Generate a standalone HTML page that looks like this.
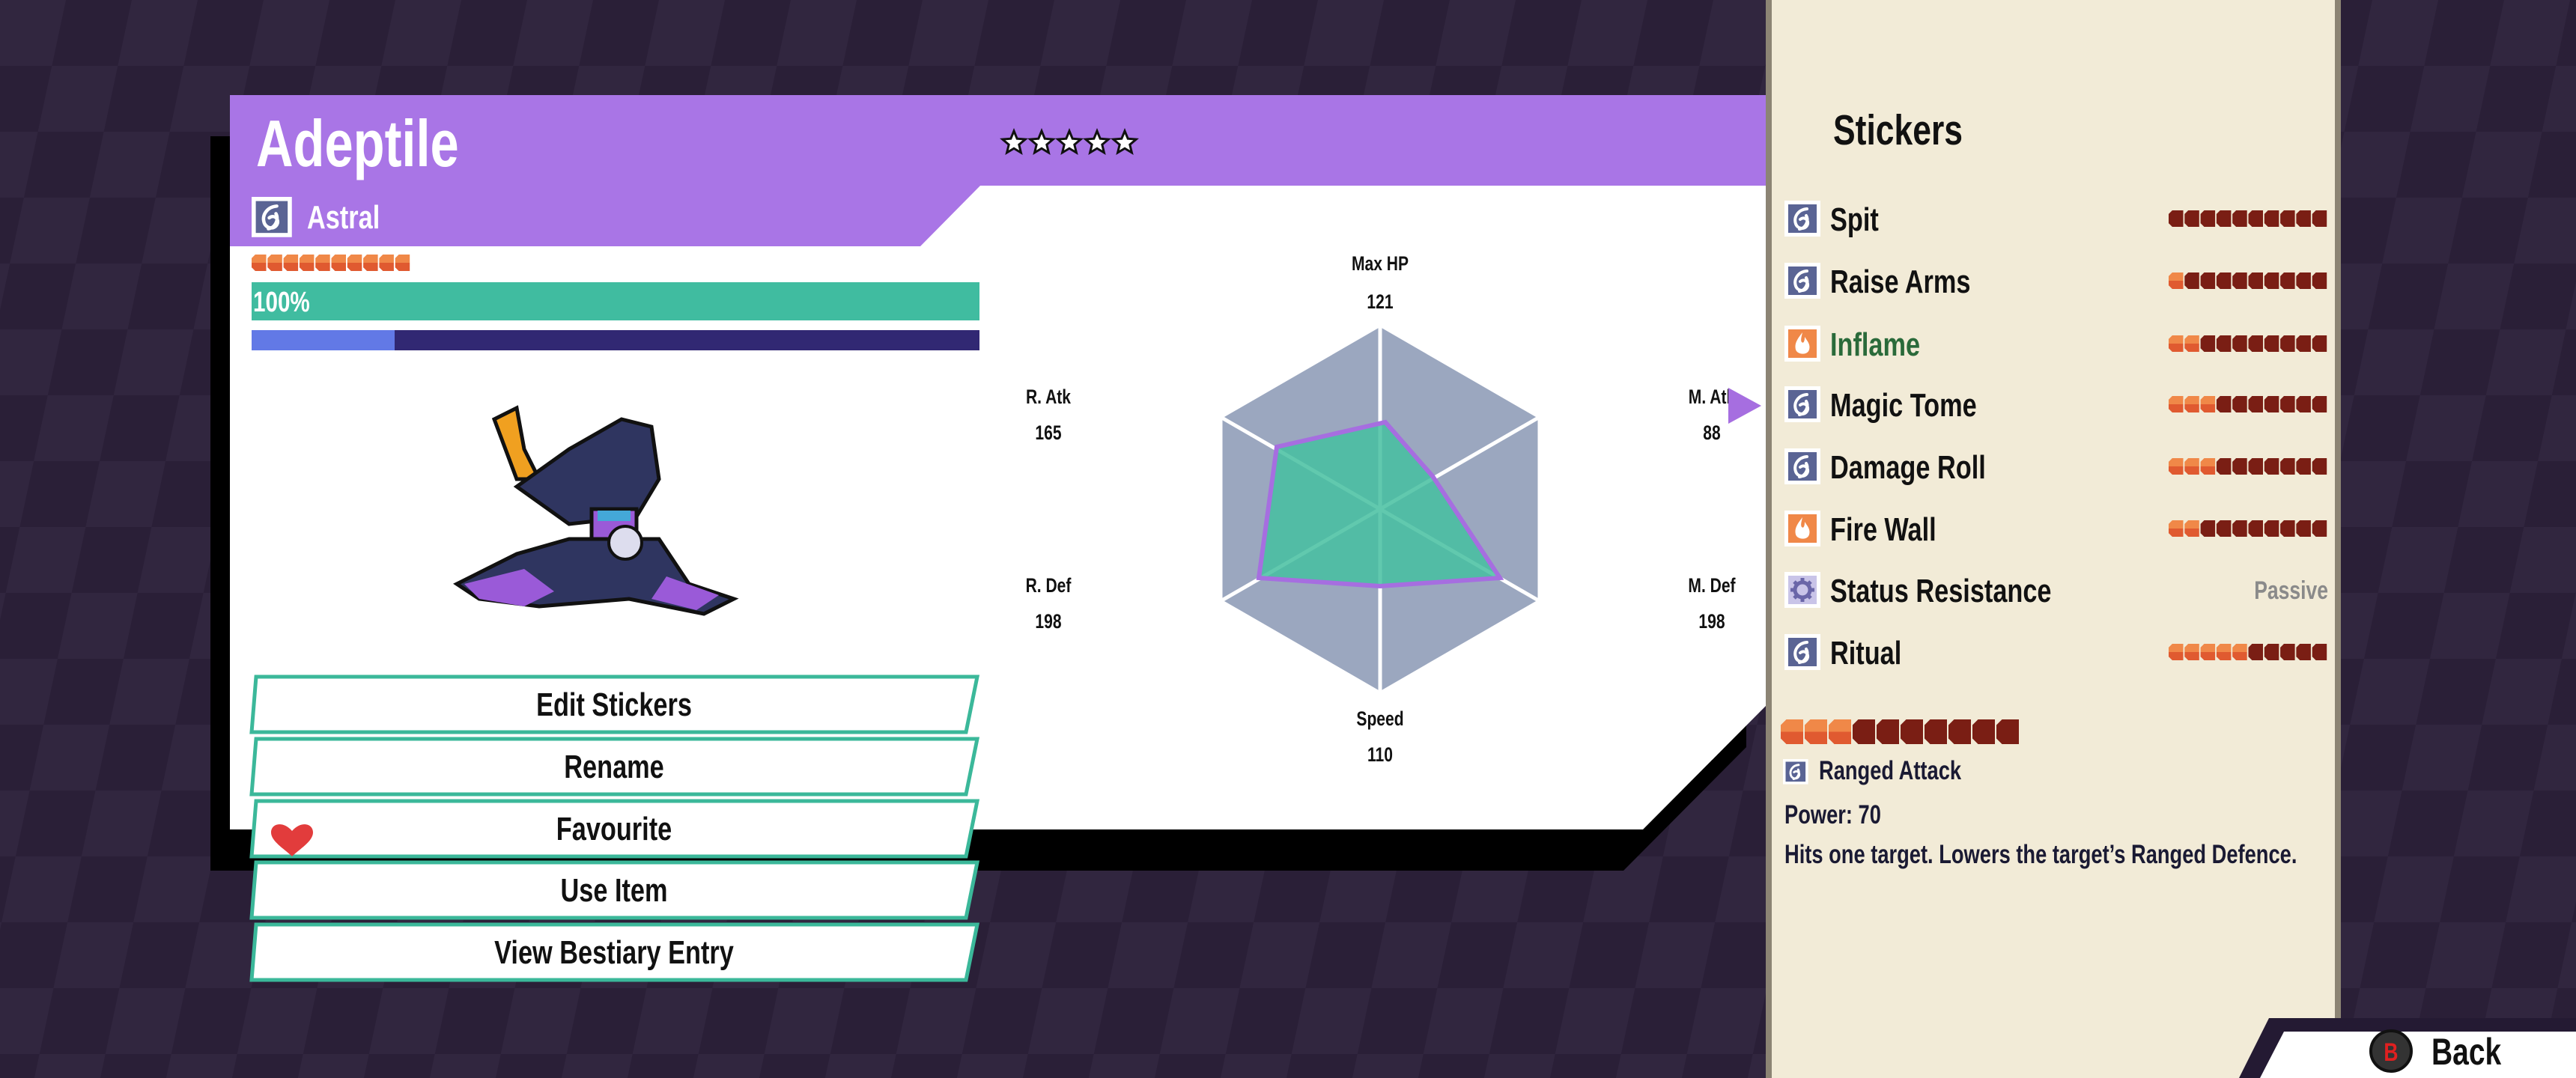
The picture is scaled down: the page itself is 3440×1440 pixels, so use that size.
<!DOCTYPE html>
<html><head><meta charset="utf-8">
<style>
html,body{margin:0;padding:0;width:3440px;height:1440px;overflow:hidden;background:#2c2139;}
svg{display:block}
text{font-family:"Liberation Sans Narrow","Liberation Sans",sans-serif;font-weight:bold;}
</style></head>
<body>
<svg id="s" width="3440" height="1440" viewBox="0 0 3440 1440" xmlns="http://www.w3.org/2000/svg">
<defs>
<pattern id="chk" width="176" height="176" patternUnits="userSpaceOnUse" patternTransform="skewX(-12)">
<rect width="176" height="176" fill="#2a1f37"/>
<rect width="88" height="88" fill="#31263f"/>
<rect x="88" y="88" width="88" height="88" fill="#31263f"/>
</pattern>
<g id="astral"><rect x="0" y="0" width="48" height="48" fill="#fff"/><rect x="5" y="5" width="38" height="38" fill="#5a6494"/><path d="M30 11 C18 12 12 22 15 31 C18 39 29 39 31 31 C32 25 26 21 21 25 M29 20 C33 27 28 37 20 38" stroke="#fff" stroke-width="4" fill="none" stroke-linecap="round"/></g>
<g id="fire"><rect x="0" y="0" width="48" height="48" fill="#fff"/><rect x="5" y="5" width="38" height="38" fill="#f08848"/><path d="M24 9 C17 18 13 24 15 32 C17 39 31 40 33 32 C35 25 30 20 27 15 C27 22 25 24 23 22 C21 19 23 14 24 9Z" fill="#fff"/></g>
<g id="gear"><rect x="0" y="0" width="48" height="48" fill="#fff"/><rect x="5" y="5" width="38" height="38" fill="#c9c4e8"/><circle cx="24" cy="24" r="10" fill="none" stroke="#6a66a8" stroke-width="5"/><g stroke="#6a66a8" stroke-width="5"><line x1="24" y1="8" x2="24" y2="14"/><line x1="24" y1="34" x2="24" y2="40"/><line x1="8" y1="24" x2="14" y2="24"/><line x1="34" y1="24" x2="40" y2="24"/><line x1="13" y1="13" x2="17" y2="17"/><line x1="31" y1="31" x2="35" y2="35"/><line x1="13" y1="35" x2="17" y2="31"/><line x1="31" y1="17" x2="35" y2="13"/></g></g>
</defs>
<rect width="3440" height="1440" fill="url(#chk)"/>

<polygon points="281,182 2332,182 2332,998 2168,1163 281,1163" fill="#000"/>
<polygon points="307,127 2358,127 2358,943 2194,1108 307,1108" fill="#fff"/>
<rect x="307" y="127" width="2051" height="121" fill="#a975e6"/>
<polygon points="307,247 1310,247 1229,329 307,329" fill="#a975e6"/>
<text x="342" y="222" font-size="88" fill="#fff">Adeptile</text>
<g id="stars"></g>
<use href="#astral" transform="translate(336,263) scale(1.12)"/>
<text x="410" y="305" font-size="44" fill="#fff">Astral</text>
<g id="hpips"></g>
<rect x="336" y="377" width="972" height="51" fill="#40bca0"/>
<text x="338" y="416" font-size="38" fill="#fff">100%</text>
<rect x="336" y="441" width="972" height="27" fill="#312873"/>
<rect x="336" y="441" width="191" height="27" fill="#6279e6"/>

<g>
<polygon points="660,560 690,545 700,600 720,640 690,640 675,600" fill="#f0a020" stroke="#111" stroke-width="5"/>
<polygon points="690,650 760,600 830,560 870,570 880,640 850,690 760,700" fill="#2f3560" stroke="#111" stroke-width="5"/>
<rect x="790" y="680" width="60" height="40" fill="#9a5ad8" stroke="#111" stroke-width="5"/>
<rect x="798" y="682" width="44" height="14" fill="#44a8d8"/>
<polygon points="760,720 880,720 920,780 980,800 940,820 840,800 720,810 640,800 610,780 690,740" fill="#2f3560" stroke="#111" stroke-width="5"/>
<polygon points="620,780 700,760 740,790 700,810 640,800" fill="#9a5ad8"/>
<polygon points="890,770 960,795 930,815 870,800" fill="#9a5ad8"/>
<circle cx="835" cy="725" r="22" fill="#dde" stroke="#111" stroke-width="4"/>
</g>

<g id="btns" font-size="44" fill="#111"></g>
<path d="M390 1110 C378 1096 362 1100 362 1112 C362 1124 380 1134 390 1144 C400 1134 418 1124 418 1112 C418 1100 402 1096 390 1110Z" fill="#e23c3c"/>

<polygon points="1843,434 2056,557 2056,803 1843,926 1630,803 1630,557" fill="#9ba7bf" stroke="#fff" stroke-width="5"/>
<g stroke="#fff" stroke-width="5"><line x1="1843" y1="434" x2="1843" y2="926"/><line x1="2056" y1="557" x2="1630" y2="803"/><line x1="2056" y1="803" x2="1630" y2="557"/></g>
<polygon points="1850,564 1913,636 2003,772 1843,783 1681,772 1705,597" fill="#45c0a0" fill-opacity="0.85" stroke="#a66ee0" stroke-width="6"/>
<g font-size="27" fill="#111" text-anchor="middle">
<text x="1843" y="361">Max HP</text><text x="1843" y="412">121</text>
<text x="1400" y="539">R. Atk</text><text x="1400" y="587">165</text>
<text x="1400" y="791">R. Def</text><text x="1400" y="839">198</text>
<text x="1843" y="969">Speed</text><text x="1843" y="1017">110</text>
<text x="2286" y="791">M. Def</text><text x="2286" y="839">198</text>
<text x="2286" y="539">M. Atk</text><text x="2286" y="587">88</text>
</g>

<rect x="2358" y="0" width="768" height="1440" fill="#f2ebd7"/>
<rect x="2358" y="0" width="8" height="1440" fill="#8c8474"/>
<rect x="3118" y="0" width="8" height="1440" fill="#8c8474"/>
<polygon points="2308,518 2308,566 2352,542" fill="#a66ee0"/>
<text x="2448" y="193" font-size="57" fill="#111">Stickers</text>
<g id="rows"></g>
<g id="bigpips"></g>
<use href="#astral" transform="translate(2381,1014) scale(0.7)"/>
<g font-size="35" fill="#1a1a33">
<text x="2429" y="1041">Ranged Attack</text>
<text x="2383" y="1100">Power: 70</text>
<text x="2383" y="1153">Hits one target. Lowers the target’s Ranged Defence.</text>
</g>

<polygon points="3030,1360 3440,1360 3440,1440 2990,1440" fill="#241a33"/>
<polygon points="3050,1378 3440,1378 3440,1440 3018,1440" fill="#fff"/>
<circle cx="3193" cy="1404" r="27" fill="#333" stroke="#111" stroke-width="4"/>
<text x="3193" y="1417" font-size="34" fill="#e02020" text-anchor="middle">B</text>
<text x="3247" y="1422" font-size="50" fill="#111">Back</text>
</svg>
<script>
var NS="http://www.w3.org/2000/svg";
function el(p,t,a,txt){var e=document.createElementNS(NS,t);for(var k in a)e.setAttribute(k,a[k]);if(txt!=null)e.textContent=txt;p.appendChild(e);return e;}
function pip(g,x,y,w,h,on){var c=Math.max(3,w*0.25);
 if(on){el(g,"path",{d:"M"+(x+c)+" "+y+"H"+(x+w)+"V"+(y+h/2)+"H"+x+"V"+(y+c)+"Z",fill:"#f08848"});el(g,"path",{d:"M"+x+" "+(y+h/2)+"H"+(x+w)+"V"+(y+h)+"H"+(x+c)+"L"+x+" "+(y+h-c)+"Z",fill:"#e05a30"});}
 else el(g,"path",{d:"M"+(x+c)+" "+y+"H"+(x+w)+"V"+(y+h)+"H"+(x+c)+"L"+x+" "+(y+h-c)+"V"+(y+c)+"Z",fill:"#7a1e14"});}
var sg=document.getElementById("stars");
for(var i=0;i<5;i++){var cx=1354+i*37,cy=191,r=16,pts=[];for(var j=0;j<10;j++){var a=-Math.PI/2+j*Math.PI/5,rr=j%2?r*0.45:r;pts.push((cx+rr*Math.cos(a)).toFixed(1)+","+(cy+rr*Math.sin(a)).toFixed(1));}el(sg,"polygon",{points:pts.join(" "),fill:"#fff",stroke:"#111","stroke-width":"3"});}
var hg=document.getElementById("hpips");for(var i=0;i<10;i++)pip(hg,336+i*21.3,340,19.5,22,true);
var bg=document.getElementById("btns");
var labels=["Edit Stickers","Rename","Favourite","Use Item","View Bestiary Entry"],ys=[904,987,1070,1152,1235];
for(var i=0;i<5;i++){var y=ys[i],h=74;el(bg,"polygon",{points:"342,"+y+" 1305,"+y+" 1290,"+(y+h)+" 336,"+(y+h),fill:"#fff",stroke:"#3bb89a","stroke-width":"5"});el(bg,"text",{x:820,y:y+52,"text-anchor":"middle"},labels[i]);}
var rg=document.getElementById("rows");
var rows=[["Spit","astral",0],["Raise Arms","astral",1],["Inflame","fire",2],["Magic Tome","astral",3],["Damage Roll","astral",3],["Fire Wall","fire",2],["Status Resistance","gear",-1],["Ritual","astral",5]];
var rys=[292,375,459,540,623,706,788,871];
for(var i=0;i<rows.length;i++){var y=rys[i];el(rg,"use",{href:"#"+rows[i][1],x:2383,y:y-24});
 el(rg,"text",{x:2444,y:y+16,"font-size":"44",fill:i==2?"#2a6a3a":"#111"},rows[i][0]);
 if(rows[i][2]<0)el(rg,"text",{x:3109,y:y+12,"font-size":"34",fill:"#8a8a8a","text-anchor":"end"},"Passive");
 else for(var k=0;k<10;k++)pip(rg,2896+k*21.3,y-11,19.5,22,k<rows[i][2]);}
var bp=document.getElementById("bigpips");for(var k=0;k<10;k++)pip(bp,2378+k*32,961,30,33,k<3);
// condense all text (narrow font not installed)
var ts=document.querySelectorAll("text");
for(var i=0;i<ts.length;i++){var x=parseFloat(ts[i].getAttribute("x"));ts[i].setAttribute("transform","translate("+x+",0) scale(0.78,1) translate("+(-x)+",0)");}
</script>
</body></html>
